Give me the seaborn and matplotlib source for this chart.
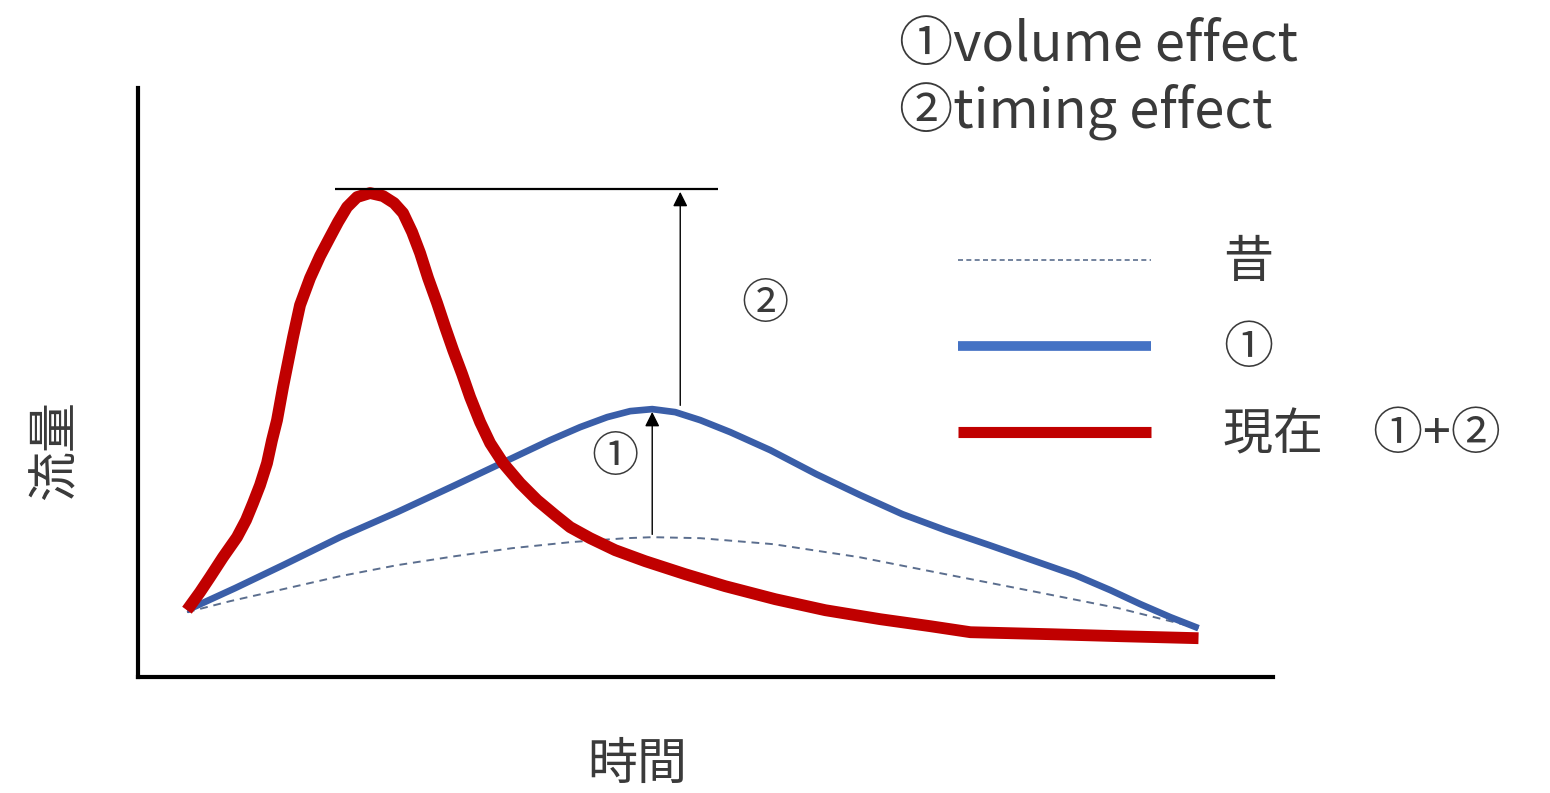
import numpy as np
import pandas as pd
import seaborn as sns
import matplotlib.pyplot as plt
from matplotlib.lines import Line2D

# hydrograph sketch: old flow, volume effect only, and present (volume + timing)
time_now = [49, 62, 72, 85, 99, 108, 115, 122, 129, 134, 139, 145, 150, 155, 162, 172, 182, 192,
            200, 209, 219, 232, 245, 256, 265, 274, 282, 290, 299, 307, 315, 324, 332, 342, 352,
            365, 382, 399, 417, 432, 452, 477, 507, 547, 587, 637, 687, 742, 792, 832, 912, 982,
            1060]
flow_now = [67, 85, 100, 120, 140, 157, 174, 192, 214, 237, 257, 290, 315, 340, 372, 399, 421, 440,
            455, 470, 480, 484, 481, 474, 464, 445, 424, 399, 374, 350, 327, 303, 280, 255, 234,
            214, 194, 177, 162, 150, 139, 127, 116, 103, 91, 78, 67, 58, 51, 45, 43, 41,
            39]

time_vol = [49, 97, 145, 202, 259, 317, 374, 412, 442, 469, 492, 514, 537, 562, 592, 632, 678, 722,
            764, 807, 851, 894, 937, 972, 1002, 1032, 1060]
flow_vol = [67, 89, 112, 140, 165, 192, 219, 237, 250, 260, 266, 268, 265, 257, 245, 227, 203, 182,
            163, 147, 132, 117, 102, 87, 73, 60, 49]

time_old = [49, 92, 145, 202, 259, 317, 374, 432, 488, 514, 562, 635, 721, 807, 894, 980, 1060]
flow_old = [65, 76, 88, 101, 112, 121, 129, 135, 139, 140, 139, 133, 120, 103, 86, 69, 49]

labels = ['昔', '①', '現在　①+②']
red = '#C00000'
blue = '#3A5EA8'
dash_col = '#5B6E8E'
txt_col = '#3A3A3A'

sns.set_style('white')
plt.rcParams['font.family'] = ['Noto Sans CJK JP', 'DejaVu Sans']

fig = plt.figure(figsize=(15.5, 7.93), dpi=100)
ax = fig.add_axes([0.089, 0.146, 0.732, 0.743])

old = pd.DataFrame({'t': time_old, 'q': flow_old})
vol = pd.DataFrame({'t': time_vol, 'q': flow_vol})
now = pd.DataFrame({'t': time_now, 'q': flow_now})

sns.lineplot(data=old, x='t', y='q', ax=ax, color=dash_col, lw=1.4, estimator=None,
             linestyle=(0, (4, 3)))
sns.lineplot(data=vol, x='t', y='q', ax=ax, color=blue, lw=4.8, estimator=None,
             solid_joinstyle='round', solid_capstyle='butt')
sns.lineplot(data=now, x='t', y='q', ax=ax, color=red, lw=8.5, estimator=None,
             solid_joinstyle='round', solid_capstyle='butt')

ax.set_xlim(0, 1134)
ax.set_ylim(0, 589)
ax.set_xticks([])
ax.set_yticks([])
for s in ['top', 'right']:
    ax.spines[s].set_visible(False)
for s in ['left', 'bottom']:
    ax.spines[s].set_linewidth(3)
    ax.spines[s].set_color('black')

# arrows for the two effects
i_vol = int(np.argmax(flow_vol))
t_pk = time_vol[i_vol]
old_at_pk = np.interp(t_pk, time_old, flow_old)
top = max(flow_now) + 4
ax.annotate('', xy=(t_pk, flow_vol[i_vol]), xytext=(t_pk, old_at_pk),
            arrowprops=dict(arrowstyle='-|>', color='black', lw=1, mutation_scale=22))
ax.annotate('', xy=(t_pk + 28, top), xytext=(t_pk + 28, flow_vol[i_vol] + 1),
            arrowprops=dict(arrowstyle='-|>', color='black', lw=1, mutation_scale=22))
ax.hlines(top, 197, 580, color='black', lw=1.6)

ax.text(477, 219, '①', fontsize=34, color=txt_col, ha='center', va='center')
ax.text(627, 372, '②', fontsize=34, color=txt_col, ha='center', va='center')

ax.set_xlabel('時間', fontsize=36, color=txt_col)
ax.xaxis.set_label_coords(0.44, -0.105)
ax.set_ylabel('流量', fontsize=36, color=txt_col)
ax.yaxis.set_label_coords(-0.05, 0.385)

fig.text(0.58, 0.943, '①volume effect', fontsize=39, color=txt_col, va='center')
fig.text(0.58, 0.859, '②timing effect', fontsize=39, color=txt_col, va='center')

handles = [Line2D([], [], color=dash_col, lw=1.2, linestyle=(0, (3, 2))),
           Line2D([], [], color='#4472C4', lw=7, solid_capstyle='butt'),
           Line2D([], [], color=red, lw=8, solid_capstyle='butt')]
ax.legend(handles, labels, loc='upper left', bbox_to_anchor=(958 / 1550, 1 - 237 / 793),
          bbox_transform=fig.transFigure, frameon=False, borderpad=0, borderaxespad=0,
          fontsize=36, handlelength=3.85, handletextpad=1.45, labelspacing=0.68,
          labelcolor=txt_col)

fig.savefig('out.png', dpi=100)
